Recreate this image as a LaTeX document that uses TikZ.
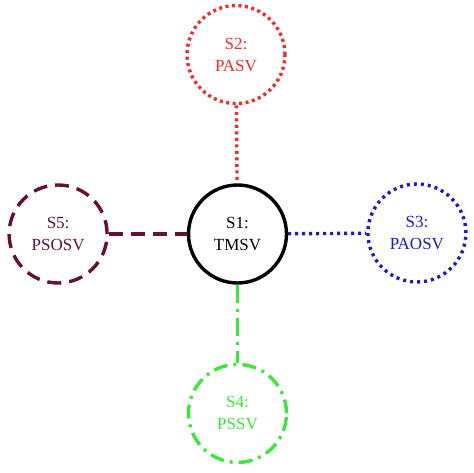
\documentclass[tikz,border=0pt]{standalone}
\usepackage{fontspec}
\setmainfont{Liberation Serif}
\usetikzlibrary{positioning}
\definecolor{StateRed}{HTML}{F42A2A}
\definecolor{StateBlue}{HTML}{1A1ACC}
\definecolor{StateGreen}{HTML}{3AE83A}
\definecolor{StateMaroon}{HTML}{661038}
\tikzset{
  state/.style={circle,draw,line width=3.4pt,minimum size=98pt,inner sep=0pt,
                align=center,font=\fontsize{17}{22}\selectfont},
  redstate/.style={state,draw=StateRed,text=StateRed,dash pattern=on 3pt off 3.5pt},
  bluestate/.style={state,draw=StateBlue,text=StateBlue,dash pattern=on 3pt off 4pt},
  greenstate/.style={state,draw=StateGreen,text=StateGreen,dash pattern=on 14pt off 6pt on 3pt off 6pt},
  maroonstate/.style={state,draw=StateMaroon,text=StateMaroon,dash pattern=on 14pt off 8pt},
  redlink/.style={line width=3.4pt,draw=StateRed,dash pattern=on 3pt off 3.5pt},
  bluelink/.style={line width=3.4pt,draw=StateBlue,dash pattern=on 3pt off 4pt},
  greenlink/.style={line width=3.4pt,draw=StateGreen,dash pattern=on 18pt off 6pt on 3pt off 6pt},
  maroonlink/.style={line width=3.4pt,draw=StateMaroon,dash pattern=on 14pt off 8pt}
}
\begin{document}
\begin{tikzpicture}[x=1pt,y=1pt,node distance=78pt]
  \useasboundingbox (0,0) rectangle (474,472);
  \node[state] (tmsv) at (237.5,238) {S1:\\TMSV};
  \node[redstate,above=of tmsv,xshift=-1.5pt] (pasv) {S2:\\PASV};
  \node[bluestate,right=of tmsv,yshift=1pt] (paosv) {S3:\\PAOSV};
  \node[greenstate,below=of tmsv] (pssv) {S4:\\PSSV};
  \node[maroonstate,left=of tmsv] (psosv) {S5:\\PSOSV};

  \draw[redlink] (pasv) -- (tmsv);
  \draw[bluelink] (tmsv) -- (paosv);
  \draw[greenlink] (tmsv) -- (pssv);
  \draw[maroonlink] (psosv) -- (tmsv);
\end{tikzpicture}
\end{document}
